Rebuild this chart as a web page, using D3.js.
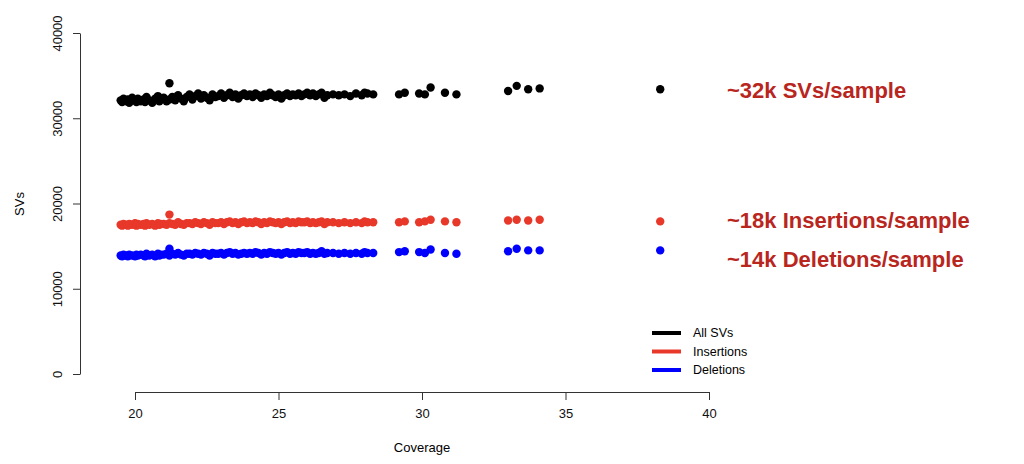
<!DOCTYPE html>
<html><head><meta charset="utf-8">
<script src="https://cdn.jsdelivr.net/npm/d3@7"></script>
<style>body{margin:0;background:#fff}text{font-family:"Liberation Sans",Arial,sans-serif}</style>
</head><body><svg id="c" width="1024" height="464"></svg>
<script>
const coverage = [
  19.5,19.55,19.6,19.7,19.75,19.8,19.9,20.0,20.05,20.1,
  20.2,20.3,20.35,20.4,20.5,20.6,20.7,20.8,20.85,20.9,
  21.0,21.1,21.2,21.2,21.3,21.4,21.5,21.6,21.7,21.8,
  21.9,22.0,22.1,22.2,22.3,22.4,22.5,22.6,22.7,22.8,
  22.9,23.0,23.1,23.2,23.3,23.4,23.5,23.6,23.7,23.8,
  23.9,24.0,24.1,24.2,24.3,24.4,24.5,24.6,24.7,24.8,
  24.9,25.0,25.1,25.2,25.3,25.4,25.5,25.6,25.7,25.8,
  25.9,26.0,26.1,26.2,26.3,26.4,26.5,26.6,26.7,26.9,
  27.1,27.3,27.5,27.7,27.9,28.0,28.1,28.3,
  29.2,29.4,29.9,30.1,30.3,30.8,31.2,33.0,33.3,33.7,34.1,38.3];
const allSVs = [
  32100,31900,32300,32000,32200,31800,32400,32100,31900,32300,
  32000,32200,31900,32500,32100,31800,32300,32600,32000,32200,
  32400,32000,34100,32200,32500,32100,32700,32300,32000,32500,
  32800,32200,32600,32900,32300,32700,32400,32100,32800,32500,
  32600,32900,32400,32700,33000,32500,32800,32300,32700,32900,
  32600,32800,32500,32900,32700,32400,32800,32600,33000,32700,
  32500,32800,32300,32700,32900,32600,32800,32700,32900,32600,
  32800,33000,32700,32900,32600,32800,33000,32400,32700,32800,
  32700,32800,32600,32900,32700,33000,32900,32800,
  32800,33000,32900,32800,33600,33000,32800,33200,33800,33400,33500,33400];
const insertions = [
  17500,17400,17600,17500,17400,17600,17500,17700,17400,17600,
  17500,17600,17400,17700,17500,17600,17400,17700,17500,17600,
  17600,17500,18700,17700,17600,17500,17800,17600,17500,17700,
  17700,17600,17800,17700,17600,17800,17700,17500,17800,17700,
  17700,17800,17600,17800,17900,17700,17800,17600,17800,17900,
  17700,17800,17700,17900,17800,17600,17800,17700,17900,17800,
  17700,17800,17600,17800,17900,17700,17800,17700,17900,17800,
  17800,17900,17700,17800,17700,17800,17900,17600,17800,17800,
  17700,17800,17700,17800,17700,17900,17800,17800,
  17800,17900,17800,17900,18100,17900,17800,18000,18100,18000,18100,17900];
const deletions = [
  13900,13800,14000,13900,13800,14000,13900,13800,14000,13900,
  14000,13900,13800,14100,13900,14000,13800,14100,13900,14000,
  14000,14100,14700,13900,14100,14000,14200,14000,13900,14100,
  14100,14000,14200,14100,14000,14200,14100,13900,14200,14100,
  14100,14200,14000,14200,14300,14100,14200,14000,14100,14200,
  14100,14200,14100,14300,14200,14000,14200,14100,14300,14200,
  14100,14200,14000,14200,14300,14100,14200,14100,14300,14200,
  14200,14300,14100,14200,14100,14200,14400,14100,14200,14200,
  14100,14200,14100,14200,14100,14300,14200,14200,
  14300,14400,14300,14200,14600,14200,14100,14400,14700,14500,14500,14500];
const seriesNames = ["All SVs","Insertions","Deletions"];
const seriesColors = ["#000000","#e8382a","#0000ff"];
const xTicks = [20,25,30,35,40];
const yTicks = [0,10000,20000,30000,40000];
const notes = ["~32k SVs/sample","~18k Insertions/sample","~14k Deletions/sample"];
const noteValues = [33300,18000,13500];

const svg = d3.select("#c");
const x = d3.scaleLinear().domain([20,40]).range([135,709]);
const y = d3.scaleLinear().domain([0,40000]).range([374,33]);

svg.append("g").attr("transform","translate(0,392)")
  .call(d3.axisBottom(x).tickValues(xTicks).tickSize(8).tickSizeOuter(0).tickPadding(9))
  .call(g=>g.selectAll("text").attr("font-size",13).attr("fill","#111"));
svg.append("g").attr("transform","translate(80,0)")
  .call(d3.axisLeft(y).tickValues(yTicks).tickFormat(d3.format("d")).tickSize(7).tickSizeOuter(0))
  .call(g=>g.selectAll("text").attr("font-size",13).attr("fill","#111")
    .attr("x",0).attr("y",0).attr("dy",0).attr("text-anchor","middle")
    .attr("transform","translate(-18,0) rotate(-90)"));
svg.selectAll(".domain,.tick line").attr("stroke","#333");

svg.append("text").attr("x",422).attr("y",452).attr("text-anchor","middle").attr("font-size",13).text("Coverage");
svg.append("text").attr("transform","translate(24,204) rotate(-90)").attr("text-anchor","middle").attr("font-size",13).text("SVs");

[allSVs,insertions,deletions].forEach((vals,i)=>{
  svg.append("g").selectAll("circle").data(coverage).join("circle")
    .attr("cx",d=>x(d)).attr("cy",(d,j)=>y(vals[j])).attr("r",4.2)
    .attr("fill",seriesColors[i]);
});

notes.forEach((t,i)=>{
  svg.append("text").attr("x",727).attr("y",y(noteValues[i])).attr("dy","0.35em")
    .attr("font-size",22).attr("font-weight","bold").attr("fill","#b8261d").text(t);
});

seriesNames.forEach((n,i)=>{
  const ly = 333 + i*18.5;
  svg.append("line").attr("x1",652).attr("x2",681).attr("y1",ly).attr("y2",ly)
    .attr("stroke",seriesColors[i]).attr("stroke-width",4);
  svg.append("text").attr("x",693).attr("y",ly).attr("dy","0.35em").attr("font-size",12.5).text(n);
});
</script></body></html>
